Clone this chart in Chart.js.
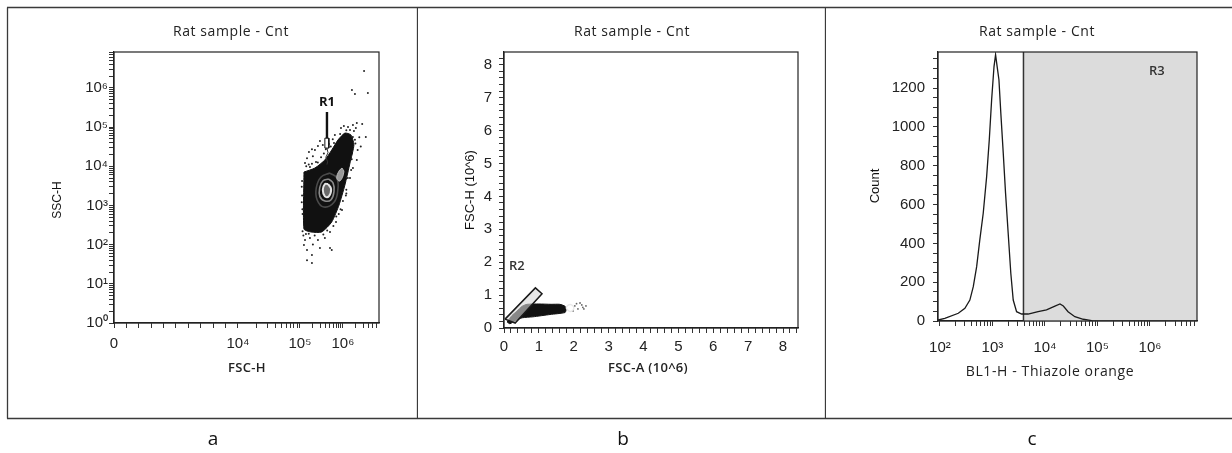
<!DOCTYPE html>
<html>
<head>
<meta charset="utf-8">
<script src="https://cdn.jsdelivr.net/npm/chart.js@4.4.1/dist/chart.umd.min.js"></script>
<style>
  body { margin: 0; background: #fff; width: 1232px; height: 453px; overflow: hidden; position: relative; }
  .col { position: absolute; top: 0; height: 453px; }
  canvas { display: block; }
</style>
</head>
<body>
<div class="col" style="left:0;width:418px"><canvas id="chartA" width="418" height="453"></canvas></div>
<div class="col" style="left:418px;width:408px"><canvas id="chartB" width="408" height="453"></canvas></div>
<div class="col" style="left:826px;width:406px"><canvas id="chartC" width="406" height="453"></canvas></div>
<script>
// ---- panel a : FSC-H vs SSC-H ----
const cloudA = [[1.24e5,7.1e3],[2.23e5,9.0e3],[3.8e5,1.44e4],[5.5e5,2.6e4],[7.7e5,4.7e4],[1.11e6,7.0e4],[1.53e6,6.3e4],[1.8e6,3.5e4],[1.46e6,1.21e4],[1.11e6,3.3e3],[8.1e5,1.02e3],[5.5e5,3.8e2],[3.2e5,2.1e2],[1.8e5,2.1e2],[1.24e5,2.5e2],[1.24e5,7.1e3]];
const ringOuterA = [[5.0e5,6.7e3],[7.2e5,5.0e3],[7.6e5,2.5e3],[6.2e5,1.2e3],[3.6e5,9.1e2],[2.5e5,1.4e3],[2.4e5,2.8e3],[3.1e5,5.3e3],[5.0e5,6.7e3]];
const ringMidA = [[4.7e5,4.7e3],[5.9e5,3.7e3],[6.2e5,2.3e3],[5.3e5,1.4e3],[3.8e5,1.3e3],[2.9e5,1.7e3],[2.9e5,2.9e3],[3.4e5,4.2e3],[4.7e5,4.7e3]];
const ringInnerA = [[4.5e5,3.5e3],[5.3e5,2.6e3],[4.7e5,1.7e3],[3.8e5,1.7e3],[3.4e5,2.5e3],[3.8e5,3.5e3],[4.5e5,3.5e3]];
const blob2A = [[9.5e5,9.0e3],[1.05e6,7.1e3],[8.5e5,4.2e3],[7.2e5,5.0e3],[8.1e5,7.5e3],[9.5e5,9.0e3]];
const dotsA = [
  [3.1e6,2.7e6],[1.62e6,8.8e5],[1.9e6,7.0e5],[3.8e6,7.4e5],[2.1e6,1.26e5],[3.4e6,5.6e4],[1.71e6,1.12e5],[2.8e6,1.19e5],
  [9.0e5,9.4e4],[1.05e6,1.06e5],[1.31e6,1.0e5],[1.46e6,8.4e4],[1.8e6,7.9e4],[2.0e6,9.4e4],[1.9e6,4.7e4],[2.2e6,2.6e4],[2.1e6,1.44e4],[1.71e6,9.0e3],
  [1.31e5,1.21e4],[1.46e5,1.6e4],[1.62e5,2.3e4],[1.9e5,2.7e4],[2.23e5,2.6e4],[2.62e5,3.3e4],[2.0e5,1.8e4],[2.92e5,4.4e4],[3.4e5,3.5e4],[2.36e5,1.28e4],[1.71e5,9.5e3],[4.0e5,2.7e4],[4.7e5,3.7e4],[5.8e5,4.9e4],[6.5e5,6.3e4],
  [1.46e6,5.0e3],[1.17e6,1.8e3],[9.5e5,7.6e2],[6.9e5,3.8e2],[5.0e5,2.1e2],[3.8e5,1.47e2],[2.62e5,1.31e2],[1.71e5,1.47e2],[1.31e5,1.31e2],[1.24e5,98],[1.46e5,73],[1.9e5,54],[1.38e5,1.86e2],[1.46e5,40],[1.9e5,34],[5.0e5,82],[5.5e5,73],[2.92e5,82],
  [1.1e5,3.0e3],[1.1e5,1.2e3],[1.15e5,6.0e2],[1.3e5,3.5e2],[2.5e5,2.6e2],[8.0e5,6.0e2],[1.2e6,2.5e3],[1.6e6,1.5e4],[2.4e6,5.5e4],[2.6e6,3.2e4],
  [1.4e5,1.0e4],[1.6e5,1.1e4],[1.9e5,1.15e4],[2.6e5,1.25e4],[3.1e5,1.7e4],[3.6e5,2.1e4],[5.2e5,3.2e4],[6.2e5,3.9e4],[8.6e5,6.6e4],[1.2e6,8.3e4],
  [1.7e6,5.6e4],[1.95e6,3.8e4],[1.6e6,2.1e4],[1.55e6,8.0e3],[1.3e6,5.0e3],[1.2e6,2.0e3],[1.0e6,1.3e3],[8.8e5,8.0e2],[7.0e5,5.2e2],[6.0e5,3.0e2],
  [4.3e5,2.3e2],[3.5e5,1.8e2],[2.2e5,1.7e2],[1.6e5,1.9e2],[1.2e5,1.7e2],[1.15e5,2.2e2],[1.12e5,4.2e3],[1.12e5,1.8e3],[1.14e5,8.0e2],[2.0e5,1.0e2]
];
const r1Stem = [[4.25e5,2.4e5],[4.25e5,5.2e4]];
const r1Box = [[3.8e5,5.2e4],[4.7e5,5.2e4],[4.7e5,2.9e4],[3.8e5,2.9e4],[3.8e5,5.2e4]];
const r1Tail = [[4.25e5,2.9e4],[4.5e5,2.2e4],[4.0e5,1.7e4],[4.4e5,1.3e4],[4.25e5,1.1e4]];
const r1Label = [4.25e5, 4.2e5];

// ---- panel b : FSC-A vs FSC-H (10^6) ----
const bandB = [[0.09,0.18],[0.23,0.38],[0.37,0.51],[0.52,0.66],[0.66,0.72],[1.0,0.73],[1.35,0.72],[1.60,0.72],[1.75,0.66],[1.78,0.56],[1.75,0.47],[1.32,0.41],[0.83,0.34],[0.52,0.31],[0.32,0.22],[0.17,0.13],[0.09,0.18]];
const ringB = [[1.78,0.61],[1.83,0.69],[1.92,0.71],[2.0,0.63],[1.97,0.53],[1.87,0.51],[1.78,0.61]];
const tailB = [[2.03,0.67],[2.12,0.58],[2.23,0.70],[2.29,0.58],[2.18,0.76],[1.98,0.52],[2.35,0.67],[2.08,0.74],[2.26,0.63]];
const gateR2 = [[0.03,0.27],[0.90,1.22],[1.09,1.04],[0.32,0.15],[0.03,0.27]];
const r2Label = [0.37, 1.88];

// ---- panel c : BL1-H histogram ----
const histBins = [92,124,224,299,372,432,501,575,668,776,871,966,1072,1148,1230,1330,1445,1607,1778,1995,2239,2489,2884,3597,4786,7413,10715,15488,19320,22387,27542,37154,53703,77625,120226,7.85e6];
const histCounts = [5,14,40,65,108,177,280,418,555,744,933,1140,1311,1372,1311,1243,1071,865,659,452,246,108,48,36,36,48,57,77,88,77,48,22,9,2,0,0];
const gateR3 = 3900;
const r3Label = [1.35e6, 1284];

// ---- axes ----
const SUP = ['⁰','¹','²','³','⁴','⁵','⁶','⁷'];
const A_Y_MAX = 8.2e6, A_X_MAX = 6.9e6;
const B_X_MAX = 8.43, B_Y_MAX = 8.39;
const C_X_MIN = 92, C_X_MAX = 7.85e6, C_Y_MAX = 1386;
const fscMajor = [0, 1e4, 1e5, 1e6];
const fscMajorLabels = ['0', '10⁴', '10⁵', '10⁶'];

// FSC-H display: linear to 10^4, then compressed decades
function fscUnits(v) {
  if (v <= 1e4) return 124 * v / 1e4;
  if (v <= 1e5) return 124 + 62 * Math.log10(v / 1e4);
  return 186 + 43 * Math.log10(v / 1e5);
}
class FscScale extends Chart.LinearScale {
  static id = 'fsc';
  getPixelForValue(value) {
    if (value === null || value === undefined) return NaN;
    const u0 = fscUnits(this.min), u1 = fscUnits(this.max);
    return this.getPixelForDecimal((fscUnits(value) - u0) / (u1 - u0));
  }
}
Chart.register(FscScale);

function decadeTicks(lo, hi) {
  const t = [];
  for (let k = 0; k < 8; k++) for (let m = 1; m < 10; m++) {
    const v = m * Math.pow(10, k);
    if (v >= lo && v <= hi) t.push({ value: v });
  }
  return t;
}
function decadeLabel(v) {
  const k = Math.round(Math.log10(v));
  return Math.abs(v - Math.pow(10, k)) < 1e-6 * v ? '10' + SUP[k] : '';
}
function fscTicks() {
  const t = [0];
  for (let m = 1; m < 10; m++) t.push(m * 1e3);
  for (let m = 1; m < 10; m++) t.push(m * 1e4);
  for (let m = 1; m < 10; m++) t.push(m * 1e5);
  for (let m = 1; m < 7; m++) t.push(m * 1e6);
  return t.map(v => ({ value: v }));
}

const pts = arr => arr.map(p => ({ x: p[0], y: p[1] }));
const tickFont = { family: '"Liberation Sans", Arial, sans-serif', size: 15 };

function axis(extra, isX, pad) {
  return Object.assign({
    afterFit: s => { if (isX) s.height = 60; else s.width = 60; },
    grid: { drawOnChartArea: false, drawTicks: true, tickLength: 5, color: '#333', lineWidth: 1 },
    border: { display: true, color: '#222', width: 1.2 },
    ticks: { autoSkip: false, maxRotation: 0, padding: pad, font: tickFont, color: '#222' }
  }, extra);
}
function line(data, color, width, more) {
  return Object.assign({ data: pts(data), showLine: true, borderColor: color, borderWidth: width,
    pointRadius: 0, fill: false, tension: 0 }, more || {});
}

function decor(cfg) {
  return {
    id: 'decor',
    afterDraw(chart) {
      const ctx = chart.ctx, a = chart.chartArea;
      ctx.save();
      ctx.strokeStyle = '#222'; ctx.lineWidth = 1.2;
      ctx.strokeRect(a.left, a.top, a.right - a.left, a.bottom - a.top);
      ctx.strokeStyle = '#3a3a3a'; ctx.lineWidth = 1.3;
      ctx.beginPath();
      ctx.moveTo(cfg.frameFrom, 7.5); ctx.lineTo(chart.width, 7.5);
      ctx.moveTo(cfg.frameFrom, 418.5); ctx.lineTo(chart.width, 418.5);
      cfg.frameX.forEach(x => { ctx.moveTo(x, 7.5); ctx.lineTo(x, 418.5); });
      ctx.stroke();
      ctx.textAlign = 'center'; ctx.textBaseline = 'middle';
      cfg.texts.forEach(t => {
        ctx.font = t.font; ctx.fillStyle = t.color || '#222';
        ctx.letterSpacing = t.spacing || '0px';
        ctx.save(); ctx.translate(t.x, t.y);
        if (t.rot) ctx.rotate(-Math.PI / 2);
        ctx.fillText(t.text, 0, 0);
        ctx.restore();
      });
      ctx.letterSpacing = '0px';
      cfg.gates.forEach(g => {
        ctx.font = g.font; ctx.fillStyle = g.color;
        ctx.fillText(g.text, chart.scales.x.getPixelForValue(g.at[0]), chart.scales.y.getPixelForValue(g.at[1]));
      });
      ctx.restore();
    }
  };
}
function baseOptions(pad, scales) {
  return { responsive: false, animation: false, events: [], layout: { padding: pad },
    plugins: { legend: { display: false }, tooltip: { enabled: false } }, scales };
}
const titleFont = '14px "Open Sans", sans-serif';
const letterFont = '19px "Open Sans", sans-serif';
const semi13 = '600 13px "Open Sans", sans-serif';

// ---- chart a ----
new Chart(document.getElementById('chartA'), {
  type: 'scatter',
  data: { datasets: [
    line(r1Stem, '#111', 2.4),
    line(r1Box, '#111', 1, { fill: 'shape', backgroundColor: '#fff' }),
    line(r1Tail, '#333', 1),
    line(blob2A, '#bbb', 1, { fill: 'shape', backgroundColor: '#9a9a9a', tension: 0.45 }),
    line(ringInnerA, '#e4e4e4', 2, { fill: 'shape', backgroundColor: '#6a6a6a', tension: 0.45 }),
    line(ringMidA, '#8a8a8a', 1.6, { tension: 0.45 }),
    line(ringOuterA, '#4a4a4a', 1.6, { tension: 0.45 }),
    line(cloudA, '#111', 1, { fill: 'shape', backgroundColor: '#111', tension: 0.2 }),
    { data: pts(dotsA), pointRadius: 1, backgroundColor: '#222', borderWidth: 0 }
  ]},
  options: baseOptions({ left: 54, right: 39, top: 52, bottom: 70 }, {
    x: axis({ type: 'fsc', min: 0, max: A_X_MAX,
      afterBuildTicks: s => { s.ticks = fscTicks(); } }, true, 7),
    y: axis({ type: 'logarithmic', min: 1, max: A_Y_MAX,
      afterBuildTicks: s => { s.ticks = decadeTicks(1, A_Y_MAX); } }, false, 1)
  }),
  plugins: [decor({
    frameFrom: 7, frameX: [7.5, 417.5],
    texts: [
      { text: 'Rat sample - Cnt', x: 231, y: 32, font: titleFont, spacing: '0.6px' },
      { text: 'FSC-H', x: 247, y: 368, font: semi13, spacing: '0.3px' },
      { text: 'SSC-H', x: 58, y: 200, rot: true, font: '12px "Liberation Sans", Arial, sans-serif', color: '#111' },
      { text: 'a', x: 213, y: 440, font: letterFont, color: '#111' }
    ],
    gates: [{ text: 'R1', at: r1Label, font: 'bold 13px "Open Sans", sans-serif', color: '#111' }]
  })]
});
// tick labels for the FSC axis
Chart.getChart('chartA').options.scales.x.ticks.callback = v => {
  const i = fscMajor.indexOf(v); return i >= 0 ? fscMajorLabels[i] : '';
};
Chart.getChart('chartA').options.scales.y.ticks.callback = decadeLabel;
Chart.getChart('chartA').update();

// ---- chart b ----
const linTicks = (max, step) => {
  const t = []; for (let i = 0; i * step <= max + 1e-9; i++) t.push({ value: Math.round(i * step * 100) / 100 });
  return t;
};
new Chart(document.getElementById('chartB'), {
  type: 'scatter',
  data: { datasets: [
    line(gateR2, '#1a1a1a', 1.5, { fill: 'shape', backgroundColor: 'rgba(215,215,215,0.6)' }),
    line(ringB, '#e8e8e8', 1.4, { tension: 0.45 }),
    line(bandB, '#111', 1, { fill: 'shape', backgroundColor: '#111', tension: 0.2 }),
    { data: pts(tailB), pointRadius: 0.9, backgroundColor: '#666', borderWidth: 0 }
  ]},
  options: baseOptions({ left: 26, right: 28, top: 52, bottom: 65 }, {
    x: axis({ type: 'linear', min: 0, max: B_X_MAX,
      afterBuildTicks: s => { s.ticks = linTicks(B_X_MAX, 0.2); } }, true, 5),
    y: axis({ type: 'linear', min: 0, max: B_Y_MAX,
      afterBuildTicks: s => { s.ticks = linTicks(B_Y_MAX, 0.2); } }, false, 7)
  }),
  plugins: [decor({
    frameFrom: 0, frameX: [407.5],
    texts: [
      { text: 'Rat sample - Cnt', x: 214, y: 32, font: titleFont, spacing: '0.6px' },
      { text: 'FSC-A (10^6)', x: 230, y: 368, font: semi13, spacing: '0.3px' },
      { text: 'FSC-H (10^6)', x: 52, y: 190, rot: true, font: '13px "Liberation Sans", Arial, sans-serif', color: '#111' },
      { text: 'b', x: 205, y: 440, font: letterFont, color: '#111' }
    ],
    gates: [{ text: 'R2', at: r2Label, font: '600 13px "Open Sans", sans-serif', color: '#333' }]
  })]
});
const intLabel = v => Number.isInteger(v) ? String(v) : '';
Chart.getChart('chartB').options.scales.x.ticks.callback = intLabel;
Chart.getChart('chartB').options.scales.y.ticks.callback = intLabel;
Chart.getChart('chartB').update();

// ---- chart c ----
new Chart(document.getElementById('chartC'), {
  type: 'scatter',
  data: { datasets: [
    line(histBins.map((b, i) => [b, histCounts[i]]), '#1a1a1a', 1.3),
    line([[gateR3, 0], [gateR3, C_Y_MAX]], '#333', 1.5),
    line([[gateR3, C_Y_MAX], [C_X_MAX, C_Y_MAX]], 'rgba(0,0,0,0)', 0, { fill: 'origin', backgroundColor: '#dcdcdc' })
  ]},
  options: baseOptions({ left: 52, right: 35, top: 52, bottom: 72 }, {
    x: axis({ type: 'logarithmic', min: C_X_MIN, max: C_X_MAX,
      afterBuildTicks: s => { s.ticks = decadeTicks(100, C_X_MAX); } }, true, 13),
    y: axis({ type: 'linear', min: 0, max: C_Y_MAX,
      afterBuildTicks: s => { s.ticks = linTicks(1350, 50); } }, false, 8)
  }),
  plugins: [decor({
    frameFrom: 0, frameX: [],
    texts: [
      { text: 'Rat sample - Cnt', x: 211, y: 32, font: titleFont, spacing: '0.6px' },
      { text: 'BL1-H - Thiazole orange', x: 224, y: 372, font: '14px "Open Sans", sans-serif', spacing: '0.6px' },
      { text: 'Count', x: 49, y: 186, rot: true, font: '13px "Liberation Sans", Arial, sans-serif', color: '#111' },
      { text: 'c', x: 206, y: 440, font: letterFont, color: '#111' }
    ],
    gates: [{ text: 'R3', at: r3Label, font: '600 13px "Open Sans", sans-serif', color: '#333' }]
  })]
});
Chart.getChart('chartC').options.scales.x.ticks.callback = decadeLabel;
Chart.getChart('chartC').options.scales.y.ticks.callback = v => (v % 200 === 0 ? String(v) : '');
Chart.getChart('chartC').update();
</script>
</body>
</html>
